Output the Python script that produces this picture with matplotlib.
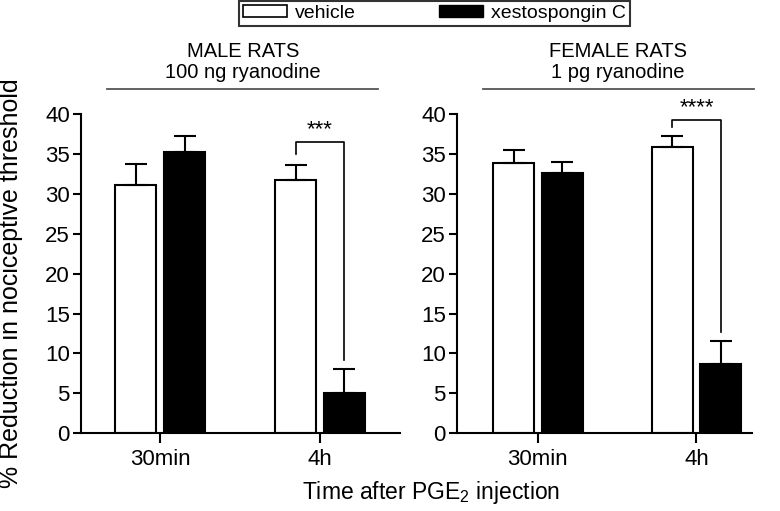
import matplotlib
matplotlib.use("Agg")
from matplotlib import pyplot as plt
from matplotlib.patches import Patch

plt.rcParams["font.family"] = ["Liberation Sans", "DejaVu Sans"]
plt.rcParams["mathtext.fontset"] = "custom"
plt.rcParams["mathtext.rm"] = "Liberation Sans"

# data
times = ["30min", "4h"]
male_vehicle = [31.1, 31.7]
male_vehicle_err = [2.6, 1.9]
male_xesto = [35.3, 5.1]
male_xesto_err = [2.0, 2.9]
female_vehicle = [33.9, 35.9]
female_vehicle_err = [1.6, 1.4]
female_xesto = [32.6, 8.7]
female_xesto_err = [1.4, 2.9]
male_stars = "***"
female_stars = "****"

W, H = 780, 511
fig = plt.figure(figsize=(W / 100, H / 100), dpi=100)


def px_axes(x0, x1, y_top, y_bot):
    return fig.add_axes([x0 / W, (H - y_bot) / H, (x1 - x0) / W, (y_bot - y_top) / H])


def panel(ax, veh, veh_err, xes, xes_err, xlim, stars, br_top, br_left, br_right):
    x = [0, 1]
    off = 0.153
    bw = 0.26
    ax.bar([i - off for i in x], veh, bw, color="white", edgecolor="black", linewidth=1.5,
           yerr=[[0, 0], veh_err], error_kw=dict(ecolor="black", elinewidth=1.5, capsize=8, capthick=1.5))
    ax.bar([i + off for i in x], xes, bw, color="black", edgecolor="black", linewidth=1.5,
           yerr=[[0, 0], xes_err], error_kw=dict(ecolor="black", elinewidth=1.5, capsize=8, capthick=1.5))
    ax.set_xlim(*xlim)
    ax.set_ylim(0, 40)
    ax.set_yticks(range(0, 41, 5))
    ax.set_xticks(x)
    ax.set_xticklabels(times)
    for s in ["top", "right"]:
        ax.spines[s].set_visible(False)
    for s in ["left", "bottom"]:
        ax.spines[s].set_linewidth(1.5)
    ax.tick_params(axis="both", width=1.5, length=6, labelsize=16, direction="out", pad=2)
    ax.tick_params(axis="x", length=7, pad=4)
    # significance bracket
    xl, xr = 1 - off, 1 + off
    ax.plot([xl, xl, xr, xr], [br_left, br_top, br_top, br_right], color="black", lw=1.2, clip_on=False)
    ax.text(1.0, br_top + 0.2, stars, ha="center", va="bottom", fontsize=16, clip_on=False)


ax1 = px_axes(81, 400, 114, 433.3)
panel(ax1, male_vehicle, male_vehicle_err, male_xesto, male_xesto_err, (-0.494, 1.5),
      male_stars, 36.5, 35.0, 9.2)

ax2 = px_axes(457, 752, 114, 433.3)
panel(ax2, female_vehicle, female_vehicle_err, female_xesto, female_xesto_err, (-0.51, 1.35),
      female_stars, 39.3, 38.4, 12.7)

# group headers
fig.text(243 / W, 1 - 62 / H, "MALE RATS\n100 ng ryanodine", ha="center", va="center",
         fontsize=14.5, linespacing=1.15)
fig.add_artist(plt.Line2D([107 / W, 378 / W], [1 - 89 / H, 1 - 89 / H], color="#555555", lw=1.3))
fig.text(618 / W, 1 - 62 / H, "FEMALE RATS\n1 pg ryanodine", ha="center", va="center",
         fontsize=14.5, linespacing=1.15)
fig.add_artist(plt.Line2D([483 / W, 754 / W], [1 - 89 / H, 1 - 89 / H], color="#555555", lw=1.3))

# axis labels
fig.text(11 / W, 1 - 283 / H, "% Reduction in nociceptive threshold", rotation=90,
         ha="center", va="center", fontsize=18)
fig.text(431 / W, 1 - 492 / H, "Time after PGE$_2$ injection", ha="center", va="center", fontsize=16.5)

# legend
handles = [Patch(facecolor="white", edgecolor="black", linewidth=1.2, label="vehicle"),
           Patch(facecolor="black", edgecolor="black", label="xestospongin C")]
leg = fig.legend(handles=handles, loc="upper center", bbox_to_anchor=(434.5 / W, 1 - 1 / H), ncol=2,
                 frameon=True, fancybox=False, edgecolor="black", fontsize=14, handlelength=2.26,
                 handleheight=0.57, columnspacing=4.27, borderpad=0.2, handletextpad=0.41,
                 borderaxespad=0)
leg.get_frame().set_linewidth(1.5)

fig.savefig("out.png", dpi=100)
